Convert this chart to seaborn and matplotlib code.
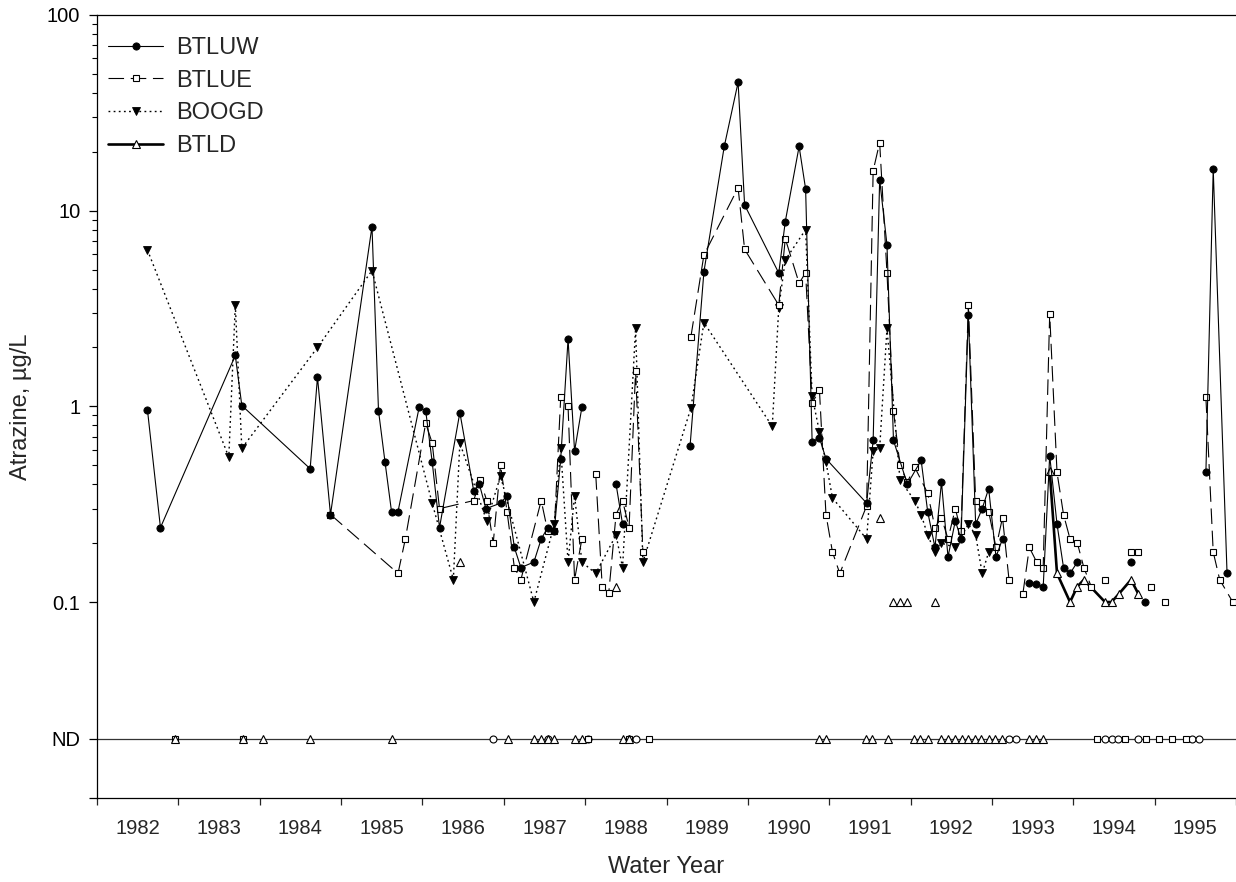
import numpy as np
import pandas as pd
import matplotlib
matplotlib.use("Agg")
import matplotlib.pyplot as plt
import seaborn as sns
from matplotlib.lines import Line2D

nan = np.nan
ND = 0.02

# ---------------- data (water year, atrazine ug/L); nan = break in line ----
btluw_year = [1982.62, 1982.78, 1983.70, 1983.78, 1984.62, 1984.71, 1984.87, 1985.38, 1985.46, 1985.54,
              1985.62, 1985.70, 1985.96, 1986.04, 1986.12, 1986.21, 1986.46, 1986.63, 1986.70, 1986.78,
              1986.96, 1987.04, 1987.13, 1987.21, 1987.37, 1987.46, 1987.54, 1987.62, 1987.70, 1987.79,
              1987.87, 1987.96, nan,
              1988.38, 1988.46, nan,
              1989.29, 1989.46, 1989.71, 1989.88, 1989.96, 1990.38, 1990.46, 1990.63, 1990.71, 1990.79,
              1990.88, 1990.96, 1991.46, 1991.54, 1991.62, 1991.71, 1991.79, 1991.96, 1992.13, 1992.21,
              1992.30, 1992.38, 1992.46, 1992.55, 1992.62, 1992.71, 1992.80, 1992.88, 1992.96, 1993.05,
              1993.13, nan,
              1993.46, 1993.54, 1993.63, 1993.71, 1993.80, 1993.88, 1993.96, 1994.05, nan,
              1994.71, nan, 1994.88, nan,
              1995.63, 1995.72, 1995.89]
btluw_val = [0.96, 0.24, 1.82, 1.01, 0.48, 1.41, 0.28, 8.3, 0.95, 0.52,
             0.29, 0.29, 0.99, 0.95, 0.52, 0.24, 0.93, 0.37, 0.40, 0.30,
             0.32, 0.35, 0.19, 0.15, 0.16, 0.21, 0.24, 0.23, 0.54, 2.21,
             0.59, 0.99, nan,
             0.40, 0.25, nan,
             0.63, 4.88, 21.3, 45.3, 10.7, 4.8, 8.8, 21.3, 12.9, 0.66,
             0.69, 0.54, 0.32, 0.67, 14.4, 6.7, 0.67, 0.40, 0.53, 0.29,
             0.19, 0.41, 0.17, 0.26, 0.21, 2.93, 0.25, 0.30, 0.38, 0.17,
             0.21, nan,
             0.125, 0.124, 0.119, 0.56, 0.25, 0.15, 0.14, 0.16, nan,
             0.16, nan, 0.10, nan,
             0.46, 16.3, 0.14]

btlue_year = [1984.87, 1985.70, 1985.79, 1986.04, 1986.12, 1986.21, 1986.63, 1986.71, 1986.79, 1986.87,
              1986.96, 1987.04, 1987.13, 1987.21, 1987.46, 1987.54, 1987.62, 1987.70, 1987.79, 1987.87,
              1987.96, nan,
              1988.13, 1988.21, 1988.29, 1988.38, 1988.46, 1988.54, 1988.62, 1988.71, nan,
              1989.30, 1989.46, 1989.88, 1989.96, 1990.38, 1990.46, 1990.63, 1990.71, 1990.79, 1990.88,
              1990.96, 1991.04, 1991.13, 1991.46, 1991.54, 1991.62, 1991.71, 1991.79, 1991.87, 1991.96,
              1992.05, 1992.21, 1992.30, 1992.38, 1992.46, 1992.55, 1992.62, 1992.71, 1992.80, 1992.88,
              1992.96, 1993.05, 1993.13, 1993.21, nan,
              1993.38, 1993.46, 1993.55, 1993.63, 1993.71, 1993.80, 1993.88, 1993.96, 1994.05, 1994.13,
              1994.22, nan,
              1994.39, nan, 1994.71, nan, 1994.80, nan, 1994.96, nan, 1995.13, nan,
              1995.63, 1995.72, 1995.80, 1995.96]
btlue_val = [0.28, 0.14, 0.21, 0.82, 0.65, 0.30, 0.33, 0.42, 0.33, 0.20,
             0.50, 0.29, 0.15, 0.13, 0.33, 0.23, 0.23, 1.12, 1.0, 0.13,
             0.21, nan,
             0.45, 0.12, 0.111, 0.28, 0.33, 0.24, 1.52, 0.18, nan,
             2.27, 5.94, 13.1, 6.35, 3.29, 7.19, 4.26, 4.82, 1.04, 1.21,
             0.28, 0.18, 0.14, 0.31, 16.0, 22.3, 4.82, 0.95, 0.50, 0.41,
             0.49, 0.36, 0.24, 0.27, 0.21, 0.30, 0.23, 3.3, 0.33, 0.32,
             0.29, 0.19, 0.27, 0.13, nan,
             0.11, 0.19, 0.16, 0.15, 2.97, 0.46, 0.28, 0.21, 0.20, 0.15,
             0.12, nan,
             0.13, nan, 0.18, nan, 0.18, nan, 0.12, nan, 0.10, nan,
             1.11, 0.18, 0.13, 0.10]

boogd_year = [1982.62, 1983.62, 1983.70, 1983.78, 1984.71, 1985.38, 1986.12, 1986.38, 1986.46, 1986.79,
              1986.96, 1987.37, 1987.62, 1987.70, 1987.79, 1987.87, 1987.96, 1988.13, 1988.38, 1988.46,
              1988.62, 1988.71, 1989.30, 1989.46, 1990.30, 1990.38, 1990.46, 1990.71, 1990.79, 1990.88,
              1990.96, 1991.04, 1991.46, 1991.54, 1991.62, 1991.71, 1991.87, 1992.05, 1992.13, 1992.21,
              1992.30, 1992.38, 1992.55, 1992.71, 1992.80, 1992.88, 1992.96]
boogd_val = [6.3, 0.55, 3.3, 0.61, 2.0, 4.94, 0.32, 0.13, 0.65, 0.26,
             0.44, 0.10, 0.25, 0.61, 0.16, 0.35, 0.16, 0.14, 0.22, 0.15,
             2.5, 0.16, 0.98, 2.68, 0.79, 3.2, 5.6, 8.0, 1.13, 0.74,
             0.52, 0.34, 0.21, 0.59, 0.61, 2.5, 0.42, 0.33, 0.28, 0.22,
             0.18, 0.20, 0.19, 0.25, 0.22, 0.14, 0.18]

btld_year = [1986.46, nan, 1988.38, nan, 1991.62, nan, 1991.79, nan, 1991.87, nan, 1991.96, nan,
             1992.30, nan,
             1993.71, 1993.80, 1993.96, 1994.05, 1994.13, 1994.39, 1994.47, 1994.56, 1994.71, 1994.80]
btld_val = [0.16, nan, 0.12, nan, 0.27, nan, 0.10, nan, 0.10, nan, 0.10, nan,
            0.10, nan,
            0.47, 0.14, 0.10, 0.12, 0.13, 0.10, 0.10, 0.11, 0.13, 0.11]

# non-detect sample dates (plotted on the ND line)
btluw_nd = [1986.87, 1987.54, 1988.04, 1988.54, 1988.62, 1993.21, 1993.29, 1994.39, 1994.47, 1994.55,
            1994.80, 1995.46, 1995.54]
btlue_nd = [1982.96, 1983.79, 1988.04, 1988.54, 1988.79, 1994.29, 1994.63, 1994.89, 1995.05, 1995.21,
            1995.38]
btld_nd = [1982.96, 1983.79, 1984.04, 1984.62, 1985.63, 1987.05, 1987.37, 1987.46, 1987.54, 1987.62,
           1987.88, 1987.96, 1988.46, 1988.54, 1990.88, 1990.96, 1991.45, 1991.53, 1991.72, 1992.04,
           1992.12, 1992.21, 1992.38, 1992.46, 1992.55, 1992.63, 1992.71, 1992.79, 1992.87, 1992.96,
           1993.04, 1993.12, 1993.46, 1993.54, 1993.63]

years = list(range(1982, 1996))
series_names = ["BTLUW", "BTLUE", "BOOGD", "BTLD"]

# ---------------- styling ----------------
sns.set_style("ticks")
plt.rcParams["font.family"] = ["Liberation Sans", "DejaVu Sans"]

W, H = 1236, 882
fig = plt.figure(figsize=(W / 100, H / 100), dpi=100)
L, R, T, B = 97, 1236, 15, 797.7
ax = fig.add_axes([L / W, 1 - B / H, (R - L) / W, (B - T) / H])
ax.set_yscale("log")
ax.set_ylim(0.01, 100)
ax.set_xlim(1982, 1996)

styles = {
    "BTLUW": dict(linestyle="-", linewidth=0.8, marker="o", markersize=5.2,
                  markerfacecolor="black", markeredgecolor="black", markeredgewidth=0.6),
    "BTLUE": dict(linestyle=(0, (14, 6)), linewidth=0.8, marker="s", markersize=4.6,
                  markerfacecolor="white", markeredgecolor="black", markeredgewidth=0.8),
    "BOOGD": dict(linestyle=(0, (1.3, 2.4)), linewidth=1.0, marker="v", markersize=5.5,
                  markerfacecolor="black", markeredgecolor="black", markeredgewidth=0.6),
    "BTLD": dict(linestyle="-", linewidth=1.9, marker="^", markersize=5.5,
                 markerfacecolor="white", markeredgecolor="black", markeredgewidth=0.8),
}
data = {
    "BTLUW": (btluw_year, btluw_val),
    "BTLUE": (btlue_year, btlue_val),
    "BOOGD": (boogd_year, boogd_val),
    "BTLD": (btld_year, btld_val),
}
zorders = {"BTLD": 3, "BOOGD": 3.2, "BTLUE": 3.4, "BTLUW": 3.6}

ax.axhline(ND, color="#333333", linewidth=0.9, zorder=1)

for name in series_names:
    yrs, vals = data[name]
    df = pd.DataFrame({"year": yrs, "val": vals})
    df["seg"] = df["val"].isna().cumsum()
    df = df.dropna()
    for _, g in df.groupby("seg"):
        sns.lineplot(data=g, x="year", y="val", ax=ax, estimator=None, sort=False,
                     legend=False, color="black", zorder=zorders[name], **styles[name])

nd_sets = [("BTLUW", btluw_nd, "o", 5.0), ("BTLUE", btlue_nd, "s", 4.6), ("BTLD", btld_nd, "^", 5.5)]
for name, xs, mk, ms in nd_sets:
    nd_df = pd.DataFrame({"year": xs, "val": [ND] * len(xs)})
    sns.lineplot(data=nd_df, x="year", y="val", ax=ax, estimator=None, sort=False, legend=False,
                 color="black", linestyle="none", marker=mk, markersize=ms,
                 markerfacecolor="white", markeredgecolor="black", markeredgewidth=0.8, zorder=4)

# ---------------- axes ----------------
ax.set_yticks([0.01, ND, 0.1, 1, 10, 100])
ax.set_yticklabels(["", "ND", "0.1", "1", "10", "100"])
minor = [m * d for d in (0.1, 1, 10) for m in range(2, 10)]
ax.set_yticks(minor, minor=True)
ax.set_yticklabels([], minor=True)

ax.set_xticks(years + [1996])
ax.set_xticklabels([])
ax.set_xticks([y + 0.5 for y in years], minor=True)
ax.set_xticklabels([str(y) for y in years], minor=True)

ax.tick_params(axis="y", which="major", direction="out", length=6, width=0.9, labelsize=14.5, pad=6,
               colors="black")
ax.tick_params(axis="y", which="minor", direction="out", length=3.5, width=0.8, colors="black")
ax.tick_params(axis="x", which="major", direction="out", length=5, width=0.9, labelsize=14.5)
ax.tick_params(axis="x", which="minor", length=0, labelsize=14.5, pad=15)

for side in ("left", "bottom", "top"):
    ax.spines[side].set_visible(True)
    ax.spines[side].set_color("black")
    ax.spines[side].set_linewidth(0.9)
ax.spines["right"].set_visible(False)

ax.set_xlabel("Water Year", fontsize=17, labelpad=13)
ax.set_ylabel("Atrazine, µg/L", fontsize=17, labelpad=11)

handles = [Line2D([], [], color="black", **styles[n]) for n in series_names]
leg = ax.legend(handles, series_names, loc="upper left",
                bbox_to_anchor=((108 - L) / (R - L), 1 - (37 - T) / (B - T)),
                frameon=False, fontsize=17, handlelength=2.35, handletextpad=0.55,
                labelspacing=0.45, borderaxespad=0, borderpad=0)

fig.savefig("out.png", dpi=100)
